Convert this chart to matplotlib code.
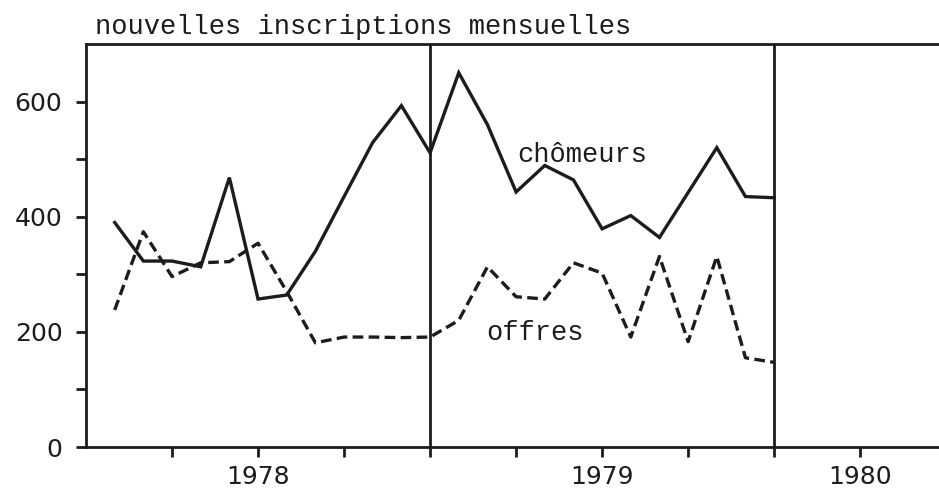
import matplotlib
matplotlib.use("Agg")
import matplotlib.pyplot as plt

# monthly new registrations (month index from left edge of the axis)
months_chom = [1, 2, 3, 4, 5, 6, 7, 8, 9, 10, 11, 12, 13, 14, 15, 16, 17, 18, 19, 20, 21, 22, 23, 24]
chomeurs = [390, 323, 323, 313, 468, 257, 264, 340, 435, 529, 593, 511,
            650, 560, 443, 489, 464, 379, 402, 364, 442, 520, 435, 433]

months_off = [1, 2, 3, 4, 5, 6, 7, 8, 9, 10, 11, 12, 13, 14, 15, 16, 17, 18, 19, 20, 21, 22, 23, 24]
offres = [238, 374, 296, 320, 322, 354, 270, 181, 191, 191, 190, 191,
          220, 313, 261, 257, 320, 302, 191, 331, 183, 331, 155, 147]

quarter_ticks = [3, 6, 9, 12, 15, 18, 21, 24, 27]
year_label_pos = [6, 18, 27]
year_labels = ["1978", "1979", "1980"]
year_lines = [12, 24]

ink = "#1c1c1c"
mono = "Liberation Mono"

fig = plt.figure(figsize=(9.39, 4.88), dpi=100)
ax = fig.add_axes([0.0916, 0.084, 0.9084, 0.8258])

ax.plot(months_chom, chomeurs, color=ink, lw=2.4, solid_joinstyle="miter")
ax.plot(months_off, offres, color=ink, lw=2.4, dashes=(3.2, 1.6))

for m in year_lines:
    ax.axvline(m, color=ink, lw=2.0)

ax.set_xlim(0, 29.75)
ax.set_ylim(0, 700)

ax.spines["right"].set_visible(False)
for s in ["left", "top", "bottom"]:
    ax.spines[s].set_linewidth(2.0)
    ax.spines[s].set_color(ink)

ax.set_yticks([0, 200, 400, 600])
ax.set_yticks([100, 300, 500], minor=True)
ax.set_xticks(quarter_ticks)
ax.set_xticklabels(["" if q not in year_label_pos else year_labels[year_label_pos.index(q)]
                    for q in quarter_ticks])
ax.tick_params(axis="both", which="both", direction="out", length=7, width=2.0,
               color=ink, labelcolor=ink, labelsize=18)
ax.tick_params(axis="y", pad=10)
ax.tick_params(axis="x", pad=6)

ax.text(17.3, 508, "chômeurs", family=mono, fontsize=19.5, color=ink, va="center", ha="center")
ax.text(15.65, 198, "offres", family=mono, fontsize=19.5, color=ink, va="center", ha="center")

fig.text(95 / 939, 1 - 27 / 488, "nouvelles inscriptions mensuelles", family=mono,
         fontsize=19.5, color=ink, va="center", ha="left")

fig.savefig("out.png", dpi=100, facecolor="white")
